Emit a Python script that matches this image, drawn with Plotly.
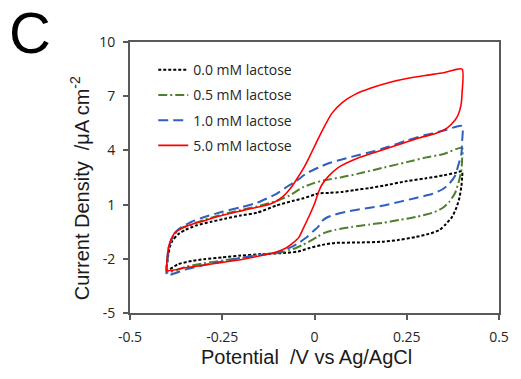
import plotly.graph_objects as go

# ---- data ----
names = ["0.0 mM lactose", "0.5 mM lactose", "1.0 mM lactose", "5.0 mM lactose"]

x_tick_vals = [-0.5, -0.25, 0, 0.25, 0.5]
x_tick_text = ["-0.5", "-0.25", "0", "0.25", "0.5"]
y_tick_vals = [-5, -2, 1, 4, 7, 10]
y_tick_text = ["-5", "-2", "1", "4", "7", "10"]

# 0.0 mM (forward then reverse scan)
black_x = [-0.400, -0.399, -0.396, -0.392, -0.385, -0.370, -0.350, -0.320, -0.280, -0.243, -0.200, -0.156,
           -0.103, -0.060, -0.030, 0.000, 0.011, 0.040, 0.074, 0.108, 0.150, 0.188, 0.250, 0.300, 0.350, 0.380, 0.400,
           0.400, 0.398, 0.393, 0.385, 0.373, 0.355, 0.339, 0.310, 0.275, 0.230, 0.188, 0.120, 0.056, 0.021,
           -0.016, -0.045, -0.085, -0.150, -0.200, -0.250, -0.300, -0.333, -0.370, -0.400]
black_y = [-2.65, -2.2, -1.75, -1.35, -1.0, -0.65, -0.4, -0.15, 0.05, 0.22, 0.4, 0.55,
           0.95, 1.2, 1.35, 1.55, 1.62, 1.65, 1.7, 1.8, 1.92, 2.05, 2.3, 2.45, 2.62, 2.75, 2.85,
           2.5, 2.0, 1.4, 0.85, 0.32, -0.1, -0.4, -0.62, -0.79, -0.95, -1.05, -1.1, -1.12, -1.23,
           -1.42, -1.6, -1.68, -1.75, -1.82, -1.92, -2.02, -2.12, -2.3, -2.65]

# 0.5 mM
green_x = [-0.400, -0.399, -0.396, -0.390, -0.380, -0.360, -0.333, -0.300, -0.250, -0.200, -0.156, -0.103,
           -0.068, -0.032, 0.000, 0.029, 0.070, 0.116, 0.188, 0.250, 0.300, 0.350, 0.400,
           0.400, 0.398, 0.390, 0.381, 0.365, 0.347, 0.320, 0.275, 0.230, 0.188, 0.150, 0.100, 0.056, 0.029,
           0.010, -0.010, -0.032, -0.050, -0.068, -0.085, -0.120, -0.156, -0.200, -0.250, -0.300, -0.350, -0.400]
green_y = [-2.75, -2.1, -1.45, -1.05, -0.65, -0.3, -0.1, 0.15, 0.45, 0.7, 0.9, 1.2,
           1.5, 1.95, 2.2, 2.36, 2.5, 2.7, 3.05, 3.35, 3.6, 3.8, 4.15,
           3.5, 2.9, 2.2, 1.64, 1.15, 0.81, 0.55, 0.32, 0.15, 0.0, -0.1, -0.24, -0.4, -0.55,
           -0.75, -1.0, -1.23, -1.4, -1.51, -1.62, -1.72, -1.8, -1.95, -2.1, -2.25, -2.45, -2.75]

# 1.0 mM
blue_x = [-0.400, -0.399, -0.396, -0.390, -0.380, -0.360, -0.333, -0.300, -0.250, -0.200, -0.156, -0.103,
          -0.070, -0.050, -0.020, 0.011, 0.040, 0.074, 0.120, 0.161, 0.200, 0.250, 0.300, 0.350, 0.400,
          0.400, 0.398, 0.390, 0.381, 0.365, 0.347, 0.320, 0.275, 0.230, 0.188, 0.150, 0.116, 0.085, 0.056,
          0.035, 0.021, 0.011, -0.005, -0.024, -0.045, -0.068, -0.095, -0.150, -0.200, -0.250, -0.300, -0.350, -0.400]
blue_y = [-2.9, -2.2, -1.5, -1.05, -0.6, -0.25, 0.05, 0.3, 0.6, 0.85, 1.1, 1.6,
          2.05, 2.3, 2.75, 3.05, 3.3, 3.5, 3.75, 3.95, 4.2, 4.55, 4.85, 5.1, 5.35,
          4.5, 3.8, 3.2, 2.6, 2.15, 1.85, 1.6, 1.37, 1.15, 0.95, 0.82, 0.72, 0.6, 0.45,
          0.3, 0.1, -0.2, -0.5, -0.85, -1.15, -1.4, -1.62, -1.8, -1.95, -2.15, -2.35, -2.6, -2.9]

# 5.0 mM
red_x = [-0.400, -0.399, -0.396, -0.390, -0.380, -0.360, -0.333, -0.300, -0.260, -0.220, -0.180, -0.140,
         -0.110, -0.085, -0.065, -0.050, -0.030, -0.016, 0.003, 0.021, 0.047, 0.075, 0.110, 0.153, 0.200,
         0.250, 0.300, 0.350, 0.400,
         0.400, 0.397, 0.390, 0.380, 0.360, 0.330, 0.285, 0.240, 0.188, 0.150, 0.108, 0.064, 0.037, 0.020,
         0.011, 0.000, -0.016, -0.030, -0.042, -0.060, -0.077, -0.103, -0.150, -0.200, -0.250, -0.300, -0.350, -0.400]
red_y = [-2.65, -2.0, -1.4, -1.0, -0.6, -0.3, -0.1, 0.1, 0.35, 0.55, 0.75, 0.92,
         1.12, 1.45, 1.9, 2.35, 3.0, 3.55, 4.35, 5.1, 6.05, 6.65, 7.1, 7.45, 7.75,
         7.98, 8.15, 8.3, 8.5,
         7.2, 6.5, 6.0, 5.65, 5.25, 4.95, 4.7, 4.4, 4.05, 3.8, 3.5, 3.05, 2.55, 2.1,
         1.7, 1.05, 0.3, -0.3, -0.8, -1.15, -1.4, -1.62, -1.85, -2.05, -2.2, -2.35, -2.5, -2.65]

series_x = [black_x, green_x, blue_x, red_x]
series_y = [black_y, green_y, blue_y, red_y]
colors = ["#000000", "#4f7f2a", "#2f5fbf", "#ff0000"]
dashes = ["3px,2px", "9px,3px,2px,3px", "10px,5px", "solid"]
widths = [2, 2, 2, 1.6]

fig = go.Figure()
for i in range(4):
    fig.add_trace(go.Scatter(
        x=series_x[i], y=series_y[i], name=names[i], mode="lines",
        line=dict(color=colors[i], dash=dashes[i], width=widths[i], shape="spline", smoothing=0.6),
        legendgroup=f"g{i}",
    ))

axis_color = "#595959"
tick_font = dict(family="Open Sans", size=14, color="#262626")

fig.update_xaxes(
    range=[-0.5, 0.5], tickvals=x_tick_vals, ticktext=x_tick_text,
    ticks="outside", ticklen=5, tickwidth=1.8, tickcolor=axis_color,
    showline=True, linecolor=axis_color, linewidth=1.8, mirror=True,
    showgrid=False, zeroline=False, tickfont=tick_font, ticklabelstandoff=5,
)
fig.update_yaxes(
    range=[-5, 10], tickvals=y_tick_vals, ticktext=y_tick_text,
    ticks="outside", ticklen=5, tickwidth=1.8, tickcolor=axis_color,
    showline=True, linecolor=axis_color, linewidth=1.8, mirror=True,
    showgrid=False, zeroline=False, tickfont=tick_font, ticklabelstandoff=5,
)

fig.update_layout(
    width=521, height=379,
    margin=dict(l=130, r=13, t=42, b=66),
    paper_bgcolor="white", plot_bgcolor="white",
    showlegend=True,
    legend=dict(
        x=0.063, y=0.955, xanchor="left", yanchor="top",
        bgcolor="rgba(0,0,0,0)", borderwidth=0,
        font=dict(family="Open Sans", size=14, color="#262626"),
        itemwidth=30, tracegroupgap=4,
    ),
    annotations=[
        dict(text="C", xref="paper", yref="paper", x=-0.27, y=1.035,
             xanchor="center", yanchor="middle", showarrow=False,
             font=dict(family="Liberation Sans", size=58, color="#000000")),
        dict(text="Potential\u00a0\u00a0/V vs Ag/AgCl", xref="paper", yref="paper",
             x=(311 - 130) / 378, y=-(357 - 313) / 271, xanchor="center", yanchor="middle",
             showarrow=False, font=dict(family="Liberation Sans", size=20, color="#1a1a1a")),
        dict(text="Current Density\u00a0\u00a0/μA cm<sup>-2</sup>", xref="paper", yref="paper",
             x=(78 - 130) / 378, y=(313 - 188) / 271, xanchor="center", yanchor="middle",
             textangle=-90, showarrow=False,
             font=dict(family="Liberation Sans", size=20, color="#1a1a1a")),
    ],
)

fig.write_html("out.html")
